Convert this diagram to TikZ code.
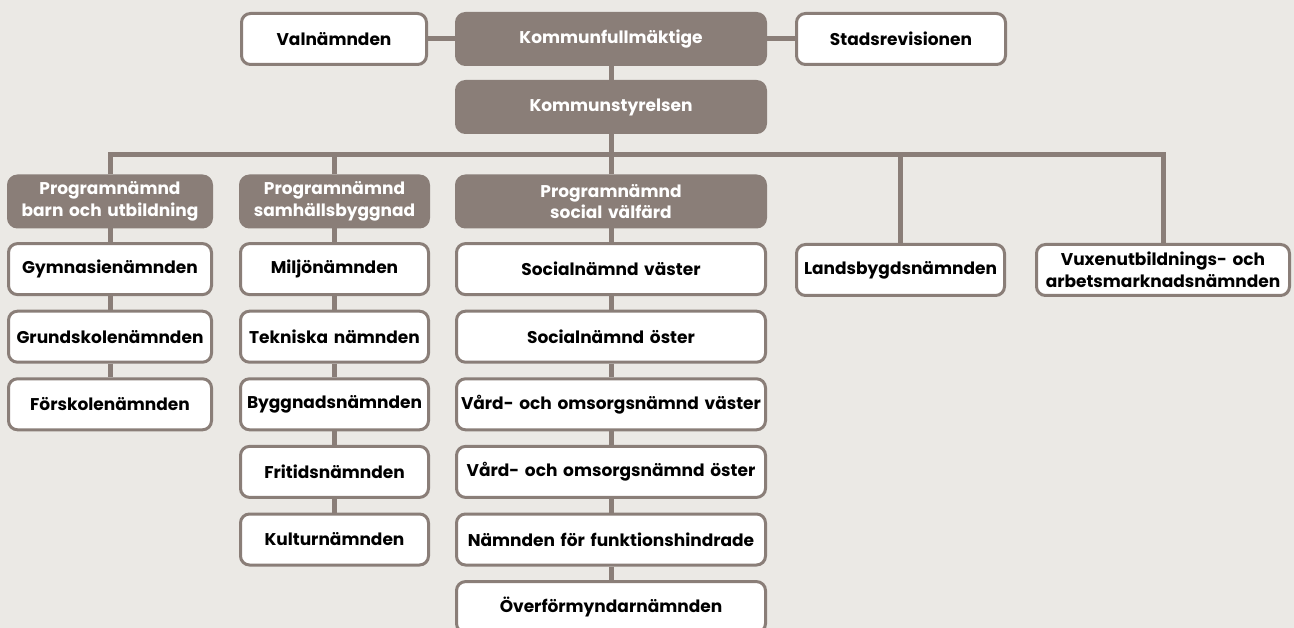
\documentclass[tikz,border=0pt]{standalone}
\usepackage{fontspec}
\setmainfont{Poppins}
\usetikzlibrary{positioning}
\definecolor{taupe}{HTML}{8A7E78}
\definecolor{paper}{HTML}{EBE9E5}
\tikzset{
        box/.style={rectangle, rounded corners=9pt, draw=taupe, line width=3pt, fill=white, text=black,
          minimum height=51pt, inner sep=0pt, text width=#1, align=center,
          font=\bfseries\fontsize{17}{21.5}\selectfont},
        head/.style={box=#1, fill=taupe, text=white},
        link/.style={draw=taupe, line width=5pt}
          }
\begin{document}
\begin{tikzpicture}[x=1pt, y=1pt, node distance=13.6pt]
            \fill[paper] (0,0) rectangle (1294,-628);
            \clip (0,0) rectangle (1294,-628);
            % top of the organisation
            \node[head=309pt] (kf) at (611,-39) {Kommunfullmäktige};
            \node[box=185pt] (valn) at (334,-39) {Valnämnden};
            \node[box=209pt] (stad) at (901,-39) {Stadsrevisionen};
            \node[head=309pt] (ks) at (611,-107) {Kommunstyrelsen};
            \coordinate (bus) at (611,-155);
            % program boards
            \node[head=203pt] (pnbarn) at (110,-201.5) {Programnämnd\\barn och utbildning};
            \node[head=188pt] (pnsam) at (334.5,-201.5) {Programnämnd\\samhällsbyggnad};
            \node[head=309pt] (pnsoc) at (611,-201.5) {Programnämnd\\social välfärd};
            \node[box=208pt] (land) at (900.5,-270) {Landsbygdsnämnden};
            \node[box=253pt] (vuxen) at (1163,-270) {Vuxenutbildnings- och\\arbetsmarknadsnämnden};
            % barn och utbildning
            \node[box=203pt, below=of pnbarn] (gymn) {Gymnasienämnden};
            \node[box=203pt, below=of gymn] (grund) {Grundskolenämnden};
            \node[box=203pt, below=of grund] (forsk) {Förskolenämnden};
            % samhällsbyggnad
            \node[box=188pt, below=of pnsam] (milj) {Miljönämnden};
            \node[box=188pt, below=of milj] (tekn) {Tekniska nämnden};
            \node[box=188pt, below=of tekn] (bygg) {Byggnadsnämnden};
            \node[box=188pt, below=of bygg] (frit) {Fritidsnämnden};
            \node[box=188pt, below=of frit] (kult) {Kulturnämnden};
            % social välfärd
            \node[box=309pt, below=of pnsoc] (socv) {Socialnämnd väster};
            \node[box=309pt, below=of socv] (soco) {Socialnämnd öster};
            \node[box=309pt, below=of soco] (vardv) {Vård- och omsorgsnämnd väster};
            \node[box=309pt, below=of vardv] (vardo) {Vård- och omsorgsnämnd öster};
            \node[box=309pt, below=of vardo] (funk) {Nämnden för funktionshindrade};
            \node[box=309pt, below=of funk] (overf) {Överförmyndarnämnden};
            % connectors
            \draw[link] (valn) -- (kf) -- (stad);
            \draw[link] (kf) -- (ks);
            \draw[link] (ks) -- (bus);
            \draw[link] (pnbarn) |- (bus) -| (vuxen);
            \foreach \n in {pnsam, pnsoc, land}
              \draw[link] (\n) -- (\n |- bus);
            \foreach \a/\b in {pnbarn/gymn, gymn/grund, grund/forsk,
                pnsam/milj, milj/tekn, tekn/bygg, bygg/frit, frit/kult,
                pnsoc/socv, socv/soco, soco/vardv, vardv/vardo, vardo/funk, funk/overf}
              \draw[link] (\a) -- (\b);
          \end{tikzpicture}
\end{document}
